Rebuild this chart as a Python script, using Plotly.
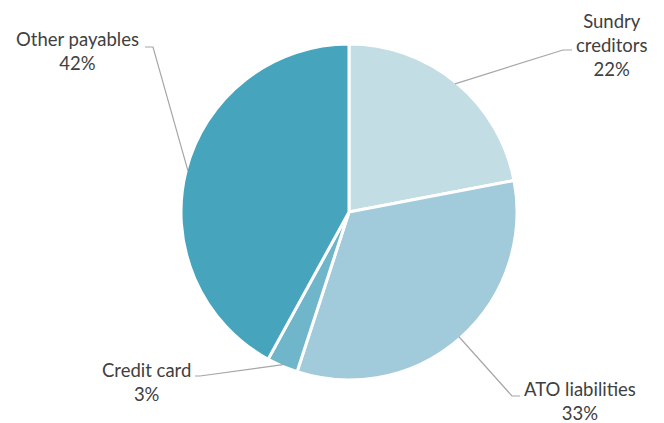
import math
import plotly.graph_objects as go

# Composition of payables (percent of total)
labels = ["Sundry creditors", "ATO liabilities", "Credit card", "Other payables"]
text_labels = ["Sundry<br>creditors<br>22%", "ATO liabilities<br>33%", "Credit card<br>3%", "Other payables<br>42%"]
values = [22, 33, 3, 42]
colors = ["#c3dde5", "#a1cadb", "#70b6cb", "#47a4bd"]

W, H = 664, 423
CX, CY, R = 349, 212, 168  # pie centre and radius in pixels

# where each label block sits (centre), and the elbow of its leader line (pixels)
label_pos = [(612, 45), (580, 401), (146, 382), (77, 51)]
elbow_pos = [((563, 50), (572, 50)), ((512, 396), (520, 396)),
             ((200, 376), (195, 376)), ((153, 47), (145, 47))]


def px(x, y):
    return x / W, 1 - y / H


fig = go.Figure(go.Pie(
    labels=labels,
    values=values,
    sort=False,
    direction="clockwise",
    rotation=0,
    marker=dict(colors=colors, line=dict(color="white", width=3)),
    textinfo="none",
    hoverinfo="label+percent",
    domain=dict(x=[(CX - R) / W, (CX + R) / W], y=[(H - CY - R) / H, (H - CY + R) / H]),
    showlegend=False,
))

total = sum(values)
cum = 0
shapes = []
annotations = []
for v, txt, (lx, ly), (e1, e2) in zip(values, text_labels, label_pos, elbow_pos):
    mid = (cum + v / 2) / total * 2 * math.pi
    cum += v
    ax = CX + R * 0.99 * math.sin(mid)
    ay = CY - R * 0.99 * math.cos(mid)
    pts = [px(ax, ay), px(*e1), px(*e2)]
    path = "M {} {} L {} {} L {} {}".format(*[c for p in pts for c in p])
    shapes.append(dict(type="path", path=path, xref="paper", yref="paper",
                       line=dict(color="#a6a6a6", width=1.2)))
    x, y = px(lx, ly)
    annotations.append(dict(x=x, y=y, xref="paper", yref="paper", text=txt,
                            xanchor="center", yanchor="middle",
                            showarrow=False, align="center",
                            font=dict(family="Lato", size=18.5, color="#404040")))

fig.update_layout(
    width=W, height=H,
    margin=dict(l=0, r=0, t=0, b=0),
    paper_bgcolor="white",
    plot_bgcolor="white",
    shapes=shapes,
    annotations=annotations,
)

fig.write_html("out.html")
